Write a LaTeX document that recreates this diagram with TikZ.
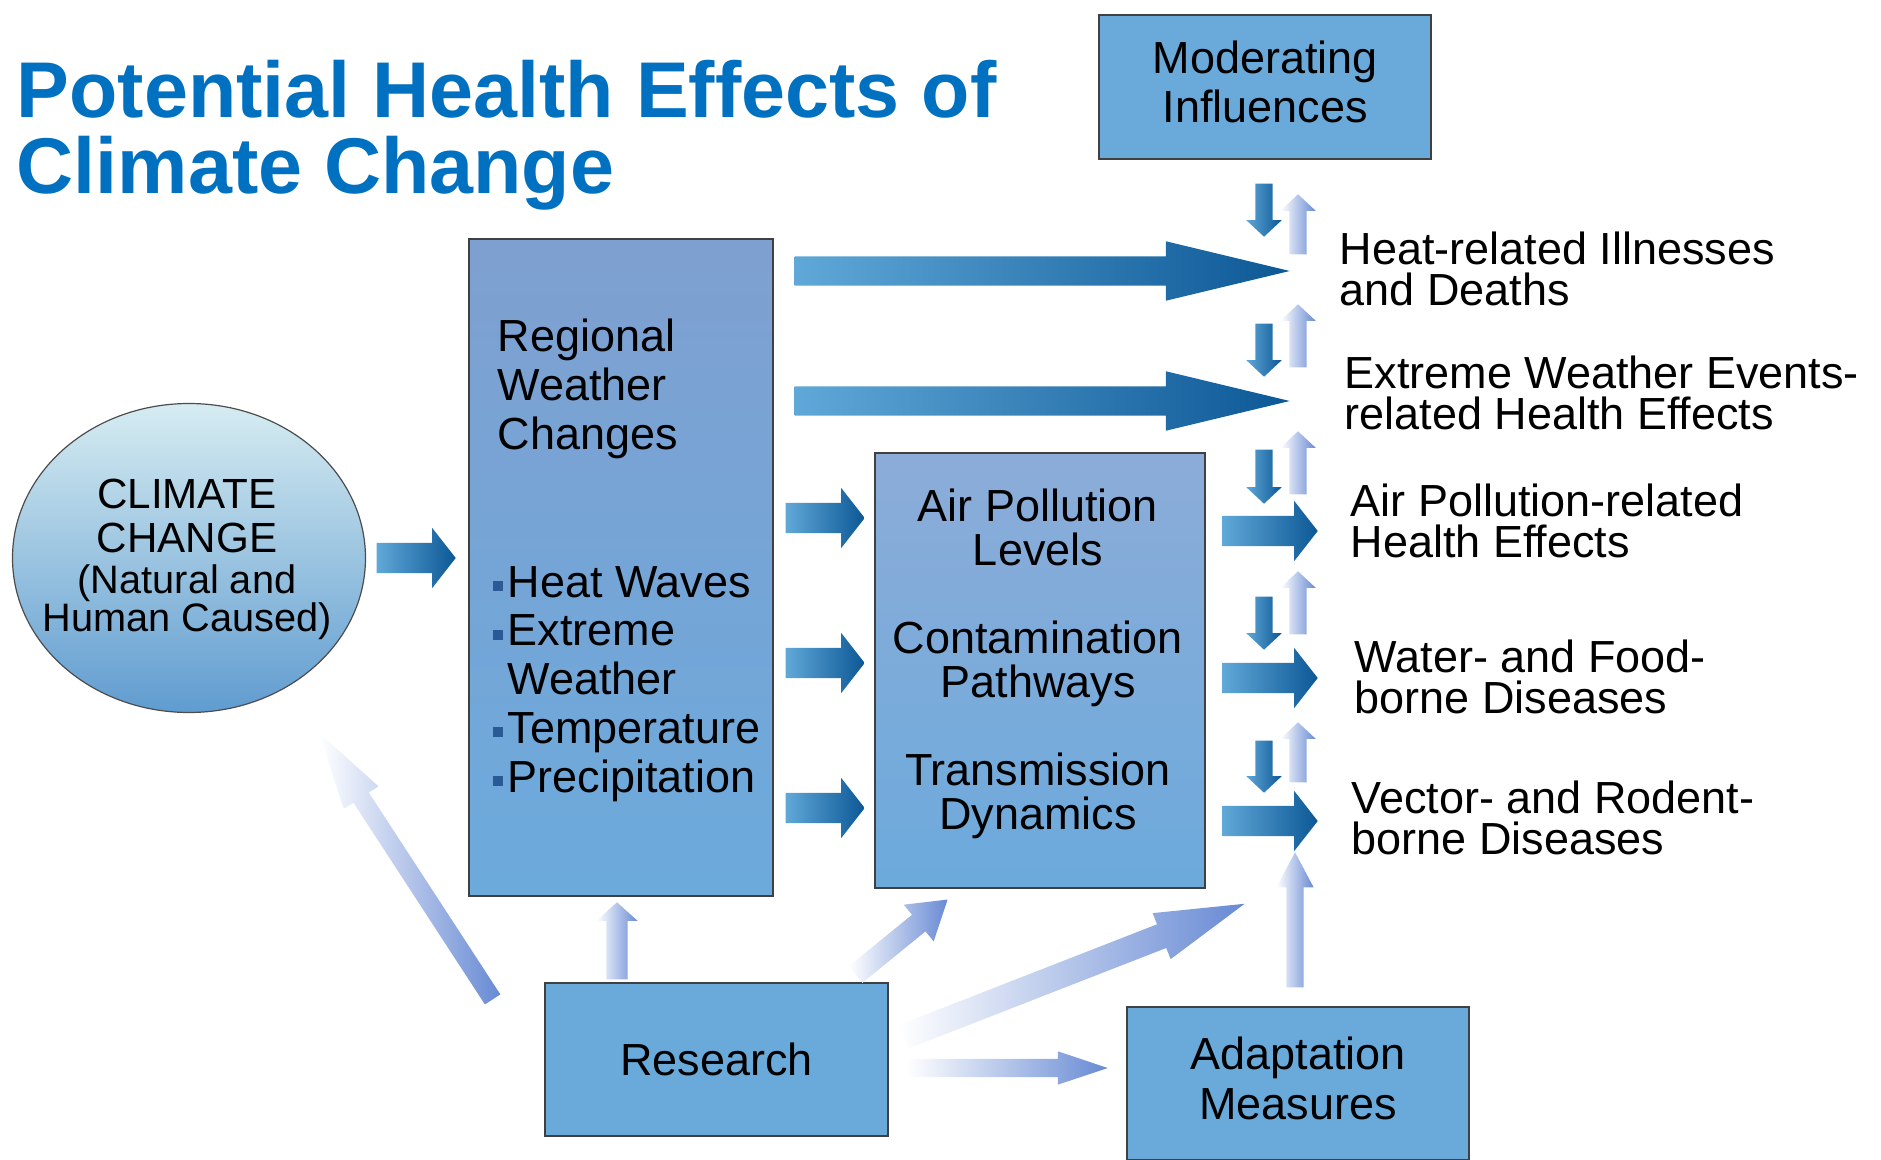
\documentclass[tikz,border=0pt]{standalone}
\usepackage{fontspec}
\setmainfont{Liberation Sans}
\usetikzlibrary{shapes.geometric,shapes.arrows,calc,positioning}

\definecolor{titleblue}{RGB}{0,112,192}
\definecolor{boxblue}{RGB}{106,170,218}
\definecolor{boxtop}{RGB}{126,160,208}
\definecolor{airtop}{RGB}{140,172,216}
\definecolor{boxbottom}{RGB}{108,170,220}
\definecolor{ovaltop}{RGB}{214,236,241}
\definecolor{ovalbottom}{RGB}{96,156,208}
\definecolor{arrowlight}{RGB}{96,168,216}
\definecolor{arrowdark}{RGB}{12,88,150}
\definecolor{fadeblue}{RGB}{104,138,212}
\definecolor{bulletblue}{RGB}{42,90,150}

\newcommand{\sqbullet}{{\color{bulletblue}\rule[0.14em]{0.23em}{0.22em}}\hspace{0.1em}}
% block arrow from #2 (tail) to #3 (tip)
\newcommand{\blockarrow}[3][]{%
  \path let \p1=(#2), \p2=(#3),
    \n1={atan2(\y2-\y1,\x2-\x1)}, \n2={veclen(\x2-\x1,\y2-\y1)} in
    node[#1, minimum height=\n2, rotate=\n1, anchor=tail] at (#2) {};}

\begin{document}
\begin{tikzpicture}[x=0.1mm, y=-0.1mm, font=\fontsize{12.8}{14}\selectfont]
\tikzstyle{boxframe} = [draw=black!75, line width=0.22mm, inner sep=0pt, anchor=north west, align=center]
\tikzstyle{flatbox} = [boxframe, fill=boxblue]
\tikzstyle{boxtext} = [inner sep=0pt, align=center]
\tikzstyle{arrowbase} = [shape=single arrow, inner xsep=0pt, minimum width=0pt]
\tikzstyle{darkarrow} = [arrowbase, left color=arrowlight, right color=arrowdark]
\tikzstyle{fadearrow} = [arrowbase, left color=white, right color=fadeblue]
\tikzstyle{longhead} = [darkarrow, inner ysep=1.4mm, single arrow head extend=1.5mm, single arrow tip angle=27]
\tikzstyle{stubhead} = [darkarrow, inner ysep=1.45mm, single arrow head extend=1.5mm, single arrow tip angle=104]
\tikzstyle{tinydown} = [darkarrow, inner ysep=0.8mm, single arrow head extend=0.9mm, single arrow tip angle=94]
\tikzstyle{tinyup} = [fadearrow, inner ysep=0.8mm, single arrow head extend=0.9mm, single arrow tip angle=94]
\tikzstyle{outcome} = [anchor=west, align=left, inner sep=0pt, font=\fontsize{12.8}{11.5}\selectfont]

\useasboundingbox (0,0) rectangle (1881,1160);

% title
\node[anchor=north west, inner sep=0pt, align=left, text=titleblue,
  font=\fontsize{22.5}{21.6}\bfseries\selectfont] (title) at (16,60)
  {Potential Health Effects of\\Climate Change};

% boxes
\node[flatbox, minimum width=33.2mm, minimum height=14.4mm] (moderating) at (1098,14) {};
\node[boxframe, top color=boxtop, bottom color=boxbottom, minimum width=30.4mm, minimum height=65.7mm]
  (regional) at (468,238) {};
\node[boxframe, top color=airtop, bottom color=boxbottom, minimum width=33mm, minimum height=43.5mm]
  (airbox) at (874,452) {};
\node[flatbox, minimum width=34.3mm, minimum height=15.3mm] (research) at (544,982) {Research};
\node[flatbox, minimum width=34.2mm, minimum height=15.3mm] (adaptation) at (1126,1006) {};
\node[ellipse, draw=black!70, line width=0.12mm, top color=ovaltop, bottom color=ovalbottom,
  minimum width=35.3mm, minimum height=30.9mm, inner sep=0pt] (climate) at (189,558) {};

% texts of the boxes
\node[boxtext, font=\fontsize{12.8}{13.9}\selectfont] (modtext) at ($(moderating.center)+(0,-5)$)
  {Moderating\\Influences};
\node[boxtext, font=\fontsize{12.8}{14.2}\selectfont] (adapttext) at ($(adaptation.center)+(0,-5)$)
  {Adaptation\\Measures};
\node[boxtext, font=\fontsize{12}{12.5}\selectfont] (climatetext) at (187,559)
  {CLIMATE\\CHANGE\\[-0.8pt]{\fontsize{11.3}{11}\selectfont (Natural and}\\[-1.7pt]{\fontsize{11.3}{11}\selectfont Human Caused)}};
\node[anchor=west, inner sep=0pt, align=left, font=\fontsize{12.8}{13.9}\selectfont]
  (regionaltext) at (497,389) {Regional\\Weather\\Changes};
\node[anchor=west, inner sep=0pt, align=left, font=\fontsize{12.8}{13.9}\selectfont]
  (weatherlist) at (492,684) {\sqbullet Heat Waves\\\sqbullet Extreme\\\hphantom{\sqbullet}Weather\\\sqbullet Temperature\\\sqbullet Precipitation};
\node[boxtext, font=\fontsize{12.8}{12.5}\selectfont] (airtext) at (1038,664)
  {Air Pollution\\Levels\\[12.5pt]Contamination\\Pathways\\[12.5pt]Transmission\\Dynamics};

% health outcomes
\node[outcome] (heat) at (1339,269) {Heat-related Illnesses\\and Deaths};
\node[outcome] (extreme) at (1344,393) {Extreme Weather Events-\\related Health Effects};
\node[outcome] (airfx) at (1350,521) {Air Pollution-related\\Health Effects};
\node[outcome] (water) at (1354,677) {Water- and Food-\\borne Diseases};
\node[outcome] (vector) at (1351,818) {Vector- and Rodent-\\borne Diseases};

% arrow ends
\coordinate (ccout) at (376,558);     \coordinate (regin) at (455,558);
\coordinate (heatout) at (794,271);   \coordinate (heatin) at (1289,271);
\coordinate (stormout) at (794,401);  \coordinate (stormin) at (1289,401);
\coordinate (pollout) at (785,518);   \coordinate (pollin) at (864,518);
\coordinate (contout) at (785,663);   \coordinate (contin) at (864,663);
\coordinate (transout) at (785,808);  \coordinate (transin) at (864,808);
\coordinate (airout) at (1222,531);   \coordinate (airin) at (1317,531);
\coordinate (waterout) at (1222,678); \coordinate (waterin) at (1317,678);
\coordinate (vecout) at (1222,821);   \coordinate (vecin) at (1317,821);
\coordinate (resup) at (617,980);     \coordinate (resupin) at (617,903);
\coordinate (resdiag) at (855,975);   \coordinate (resdiagin) at (947,900);
\coordinate (reslong) at (903,1037);  \coordinate (reslongin) at (1244,904);
\coordinate (resright) at (906,1068); \coordinate (resrightin) at (1107,1068);
\coordinate (adaptup) at (1295,988);  \coordinate (adaptupin) at (1295,853);
\coordinate (resleft) at (493,1000);  \coordinate (resleftin) at (319,733);

% dark arrows
\blockarrow[stubhead]{ccout}{regin}
\blockarrow[longhead]{heatout}{heatin}
\blockarrow[longhead]{stormout}{stormin}
\blockarrow[stubhead]{pollout}{pollin}
\blockarrow[stubhead]{contout}{contin}
\blockarrow[stubhead]{transout}{transin}
\blockarrow[stubhead]{airout}{airin}
\blockarrow[stubhead]{waterout}{waterin}
\blockarrow[stubhead]{vecout}{vecin}

% moderating influences, down and up
\foreach \i/\dtop/\dtip/\utail/\utip in {1/183/236/255/195, 2/323/376/368/305,
    3/449/503/495/432, 4/596/649/635/572, 5/740/792/783/723}{
  \coordinate (down\i) at (1264,\dtop); \coordinate (downtip\i) at (1264,\dtip);
  \coordinate (up\i) at (1298,\utail);  \coordinate (uptip\i) at (1298,\utip);
  \blockarrow[tinydown]{down\i}{downtip\i}
  \blockarrow[tinyup]{up\i}{uptip\i}
}

% research arrows
\blockarrow[fadearrow, inner ysep=1mm, single arrow head extend=1mm, single arrow tip angle=96]{resup}{resupin}
\blockarrow[fadearrow, inner ysep=1mm, single arrow head extend=1.3mm, single arrow tip angle=65]{resdiag}{resdiagin}
\blockarrow[fadearrow, inner ysep=1.2mm, single arrow head extend=1.2mm, single arrow tip angle=31]{reslong}{reslongin}
\blockarrow[fadearrow, inner ysep=0.85mm, single arrow head extend=0.75mm, single arrow tip angle=37]{resright}{resrightin}
\blockarrow[fadearrow, inner ysep=0.8mm, single arrow head extend=1mm, single arrow tip angle=56]{adaptup}{adaptupin}
\blockarrow[fadearrow, inner ysep=0.85mm, single arrow head extend=1.15mm, single arrow tip angle=30]{resleft}{resleftin}
\end{tikzpicture}
\end{document}
